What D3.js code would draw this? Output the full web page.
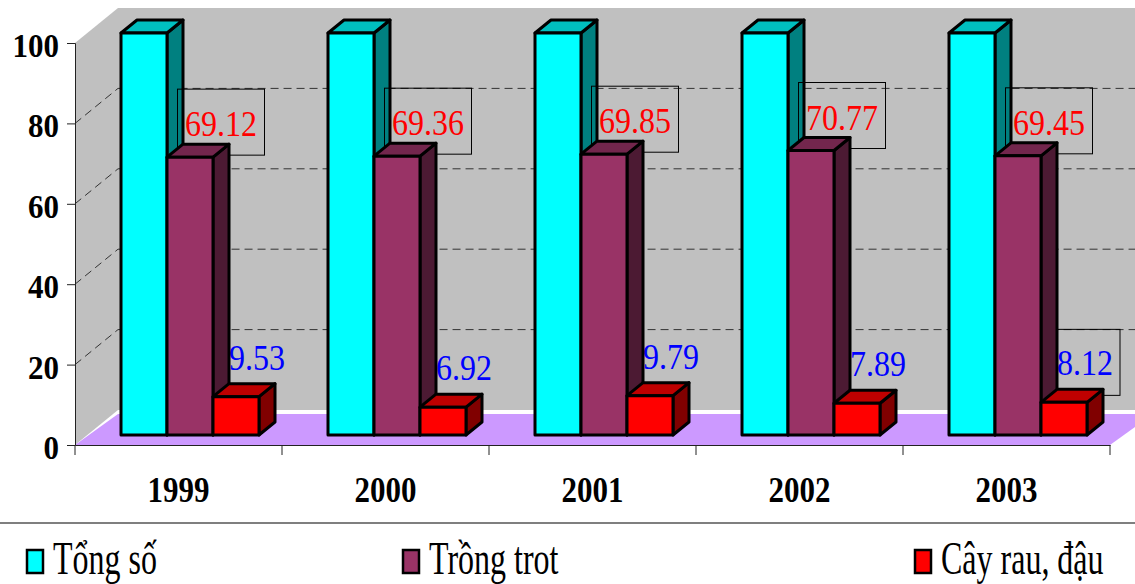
<!DOCTYPE html>
<html>
<head>
<meta charset="utf-8">
<script src="https://cdn.jsdelivr.net/npm/d3@7/dist/d3.min.js"></script>
<style>
  html, body { margin: 0; padding: 0; background: #fff; }
  svg { display: block; }
  text { font-family: "Liberation Serif", "Times New Roman", serif; }
</style>
</head>
<body>
<svg id="chart" width="1135" height="584"></svg>
<script>
// Data
const years = ["1999", "2000", "2001", "2002", "2003"];
const seriesNames = ["Tổng số", "Trồng trot", "Cây rau, đậu"];
const tongSo = [100, 100, 100, 100, 100];
const trongTrot = [69.12, 69.36, 69.85, 70.77, 69.45];
const cayRauDau = [9.53, 6.92, 9.79, 7.89, 8.12];
const yTicks = [0, 20, 40, 60, 80, 100];

// Face colours per series: front, top, side
const palette = [
  { front: "#00FFFF", top: "#00BFBF", side: "#008080" },
  { front: "#993366", top: "#73264D", side: "#4C1A33" },
  { front: "#FF0000", top: "#BF0000", side: "#800000" }
];

const svg = d3.select("#chart");

// Projection of the 3-D box
const plotLeft = 75, plotRight = 1110;
const depthDX = 43, depthDY = -35;      // full depth of the plot box
const barOffX = 11.5, barOffY = -10;    // bars stand part-way into the box
const barDX = 16, barDY = -13;          // thickness of each bar

const y = d3.scaleLinear().domain([0, 100]).range([445, 43]);
const xCat = d3.scaleBand().domain(years).range([plotLeft, plotRight]);
const xSer = d3.scaleBand().domain(seriesNames).range([0, xCat.bandwidth()]).paddingOuter(0.75);

const poly = pts => pts.map(p => p.join(",")).join(" ");
// Text in this chart is set in a tall, narrow face
const tall = (x, yy, s) => `translate(${x},${yy}) scale(1,${s})`;

// Walls
const wallTop = y(100) + depthDY, wallBottom = y(0) + depthDY;
svg.append("polygon")
  .attr("points", poly([[plotLeft, y(0)], [plotLeft, y(100)], [plotLeft + depthDX, wallTop], [plotLeft + depthDX, wallBottom]]))
  .attr("fill", "#C0C0C0");
svg.append("rect")
  .attr("x", plotLeft + depthDX).attr("y", wallTop)
  .attr("width", 1200).attr("height", wallBottom - wallTop)
  .attr("fill", "#C0C0C0");

// Floor
svg.append("polygon")
  .attr("points", poly([[plotLeft, y(0)], [plotLeft + 43, y(0) - 31], [plotRight + 43, y(0) - 31], [plotRight, y(0)]]))
  .attr("fill", "#CC99FF");

// Gridlines on the side and back walls
const grid = svg.append("g").attr("stroke", "#333").attr("stroke-width", 1).attr("stroke-dasharray", "8,5").attr("fill", "none");
yTicks.filter(v => v > 0 && v < 100).forEach(v => {
  grid.append("polyline")
    .attr("points", poly([[plotLeft, y(v)], [plotLeft + depthDX, y(v) + depthDY], [1135, y(v) + depthDY]]));
});

// Axes
const yAxis = d3.axisLeft(y).tickValues(yTicks).tickSize(8).tickFormat(d3.format("d"));
const gy = svg.append("g").attr("transform", `translate(${plotLeft},0)`).call(yAxis);
gy.select(".domain").attr("stroke", "#222");
gy.selectAll(".tick line").attr("stroke", "#222");
gy.selectAll(".tick text")
  .attr("x", 0).attr("y", 0).attr("dy", null)
  .attr("transform", tall(-16, 13.5, 1.1))
  .attr("font-family", "Liberation Serif, serif")
  .attr("font-size", 31).attr("font-weight", "bold").attr("fill", "#000");

const xAxis = d3.axisBottom(xCat).tickSize(0);
const gx = svg.append("g").attr("transform", `translate(0,${y(0)})`).call(xAxis);
gx.select(".domain").attr("stroke", "#222");
gx.selectAll(".tick text")
  .attr("x", 0).attr("y", 0).attr("dy", null)
  .attr("transform", tall(0, 57, 1.15))
  .attr("font-family", "Liberation Serif, serif")
  .attr("font-size", 31).attr("font-weight", "bold").attr("fill", "#000");
// category separators
svg.append("g").selectAll("line")
  .data(years.map(d => xCat(d)).concat([plotRight]))
  .join("line")
  .attr("x1", d => d).attr("x2", d => d)
  .attr("y1", y(0)).attr("y2", y(0) + 10)
  .attr("stroke", "#222");

// Bars
const seriesValues = [tongSo, trongTrot, cayRauDau];
function drawSeries(si) {
  const g = svg.append("g")
    .attr("stroke", "#000").attr("stroke-width", 3).attr("stroke-linejoin", "round");
  years.forEach((yr, i) => {
    const v = seriesValues[si][i];
    const x0 = xCat(yr) + xSer(seriesNames[si]) + barOffX;
    const x1 = x0 + xSer.bandwidth();
    const yb = y(0) + barOffY;
    const yt = y(v) + barOffY;
    const c = palette[si];
    g.append("polygon")
      .attr("points", poly([[x1, yt], [x1 + barDX, yt + barDY], [x1 + barDX, yb + barDY], [x1, yb]]))
      .attr("fill", c.side);
    g.append("polygon")
      .attr("points", poly([[x0, yt], [x0 + barDX, yt + barDY], [x1 + barDX, yt + barDY], [x1, yt]]))
      .attr("fill", c.top);
    g.append("rect")
      .attr("x", x0).attr("y", yt).attr("width", x1 - x0).attr("height", yb - yt)
      .attr("fill", c.front);
  });
}

drawSeries(0);

// Value labels
const labels = svg.append("g").attr("font-size", 32);
years.forEach((yr, i) => {
  // Trồng trot labels, boxed
  const v = trongTrot[i];
  const cx = xCat(yr) + xSer(seriesNames[1]) + xSer.bandwidth() / 2 + barOffX + 31;
  const base = y(v) + barOffY - 21;
  labels.append("rect")
    .attr("x", cx - 43.5).attr("y", base - 47).attr("width", 87).attr("height", 66)
    .attr("fill", "none").attr("stroke", "#000").attr("stroke-width", 1);
  labels.append("text")
    .attr("transform", tall(cx, base, 1.15)).attr("text-anchor", "middle")
    .attr("fill", "#FF0000").text(d3.format(".2f")(v));
});
years.forEach((yr, i) => {
  const v = cayRauDau[i];
  const cx = xCat(yr) + xSer(seriesNames[2]) + xSer.bandwidth() / 2 + barOffX + 21;
  const base = y(v) + barOffY - 27;
  if (yr === "2003") {
    labels.append("rect")
      .attr("x", cx - 35).attr("y", base - 46).attr("width", 70).attr("height", 66)
      .attr("fill", "none").attr("stroke", "#000").attr("stroke-width", 1);
  }
  labels.append("text")
    .attr("transform", tall(cx, base, 1.15)).attr("text-anchor", "middle")
    .attr("fill", "#0000FF").text(d3.format(".2f")(v));
});

drawSeries(1);
drawSeries(2);

// Divider above the legend
svg.append("line")
  .attr("x1", 0).attr("x2", 1135).attr("y1", 523).attr("y2", 523)
  .attr("stroke", "#555").attr("stroke-width", 1.5);

// Legend
const legendX = [27, 403, 915];
const legend = svg.append("g");
seriesNames.forEach((name, si) => {
  const lg = legend.append("g").attr("transform", `translate(${legendX[si]},0)`);
  lg.append("rect")
    .attr("x", 0).attr("y", 550).attr("width", 16).attr("height", 23)
    .attr("fill", palette[si].front).attr("stroke", "#000").attr("stroke-width", 2.5);
  lg.append("text")
    .attr("transform", tall(26, 574, 1.45))
    .attr("font-size", 32).attr("fill", "#000")
    .text(name);
});
</script>
</body>
</html>
